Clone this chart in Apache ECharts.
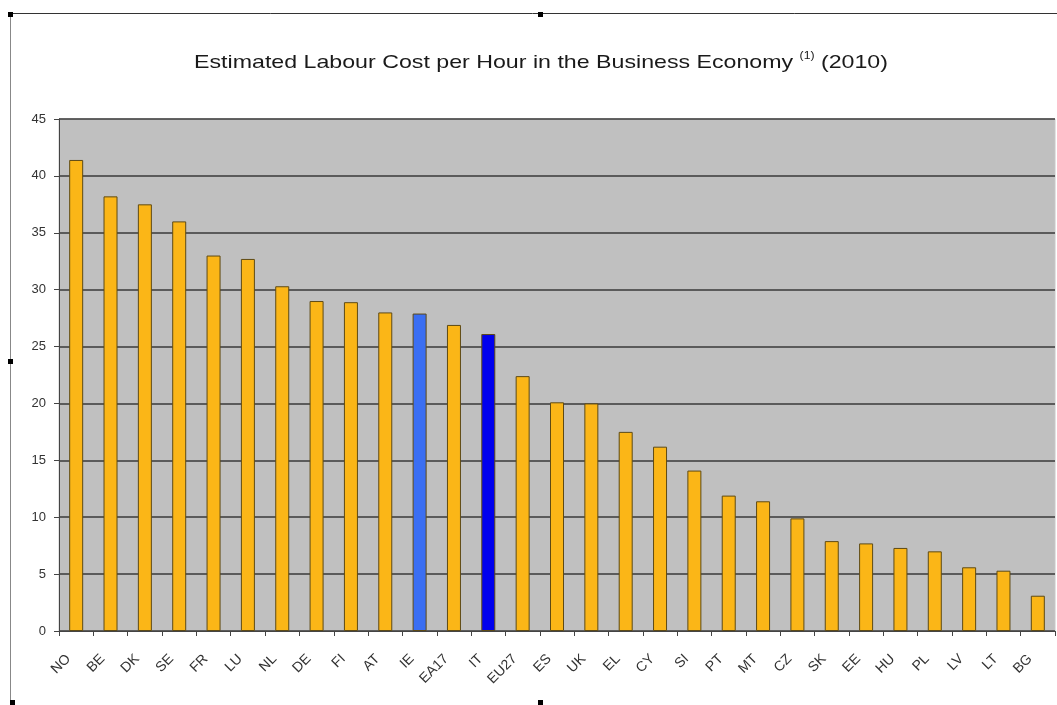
<!DOCTYPE html>
<html>
<head>
<meta charset="utf-8">
<script src="https://cdn.jsdelivr.net/npm/echarts@6/dist/echarts.min.js"></script>
<style>html,body{margin:0;padding:0;background:#fff;}#c{width:1057px;height:705px;}</style>
</head>
<body>
<div id="c"></div>
<script>
const categories = ['NO','BE','DK','SE','FR','LU','NL','DE','FI','AT','IE','EA17','IT','EU27','ES','UK','EL','CY','SI','PT','MT','CZ','SK','EE','HU','PL','LV','LT','BG'];
const values = [41.4,38.2,37.5,36.0,33.0,32.7,30.3,29.0,28.9,28.0,27.9,26.9,26.1,22.4,20.1,20.0,17.5,16.2,14.1,11.9,11.4,9.9,7.9,7.7,7.3,7.0,5.6,5.3,3.1];
const yTicks = [0,5,10,15,20,25,30,35,40,45];
const titleMain = 'Estimated Labour Cost per Hour in the Business Economy ';
const titleNote = '(1)';
const titleYear = ' (2010)';

const highlight = {IE:'#3a6ef2', IT:'#0000ee'};
const chart = echarts.init(document.getElementById('c'), null, {renderer:'canvas'});
const font = 'Liberation Sans, Arial, sans-serif';
const handle = (x,y)=>({type:'rect', shape:{x:x,y:y,width:5,height:5}, style:{fill:'#000'}, silent:true});
chart.setOption({
  animation:false,
  backgroundColor:'#fff',
  graphic:[
    {type:'line', shape:{x1:8,y1:13.5,x2:1057,y2:13.5}, style:{stroke:'#333',lineWidth:1}, silent:true},
    {type:'line', shape:{x1:10.5,y1:13,x2:10.5,y2:705}, style:{stroke:'#888',lineWidth:1}, silent:true},
    handle(8,12), handle(538,12), handle(8,359), handle(10,700), handle(538,700),
    {type:'text', x:541, y:62, scaleX:1.22, silent:true,
      style:{
        text:'{m|'+titleMain+'}{s|'+titleNote+'}{m|'+titleYear+'}',
        align:'center', verticalAlign:'middle',
        rich:{
          m:{fontFamily:font,fontSize:19,fill:'#1a1a1a',verticalAlign:'bottom'},
          s:{fontFamily:font,fontSize:10,fill:'#1a1a1a',padding:[0,0,11,0]}
        }
      }}
  ],
  grid:{left:59, right:2, top:119, bottom:74, show:true, backgroundColor:'#c0c0c0', borderWidth:1, borderColor:'#c8c8c8', containLabel:false},
  xAxis:{
    type:'category', data:categories,
    axisLine:{show:true, lineStyle:{color:'#444',width:1}},
    axisTick:{show:true, alignWithLabel:false, length:5, lineStyle:{color:'#444'}},
    axisLabel:{rotate:45, fontFamily:font, fontSize:14, color:'#333', margin:18, padding:[0,11,0,0], interval:0}
  },
  yAxis:{
    type:'value', min:0, max:45, interval:5,
    axisLine:{show:true, lineStyle:{color:'#444',width:1}},
    axisTick:{show:true, length:5, inside:false, lineStyle:{color:'#444'}},
    axisLabel:{fontFamily:font, fontSize:13, color:'#333', margin:13,
      formatter:v=>yTicks.includes(v)?String(v):''},
    splitLine:{show:true, lineStyle:{color:'#3a3a3a', width:1.5}}
  },
  series:[{
    type:'bar',
    data:values.map((v,i)=>({value:v, itemStyle:{color:highlight[categories[i]]||'#fbb617'}})),
    barWidth:14,
    itemStyle:{borderColor:'#5e4a14', borderWidth:1}
  }]
});
</script>
</body>
</html>
